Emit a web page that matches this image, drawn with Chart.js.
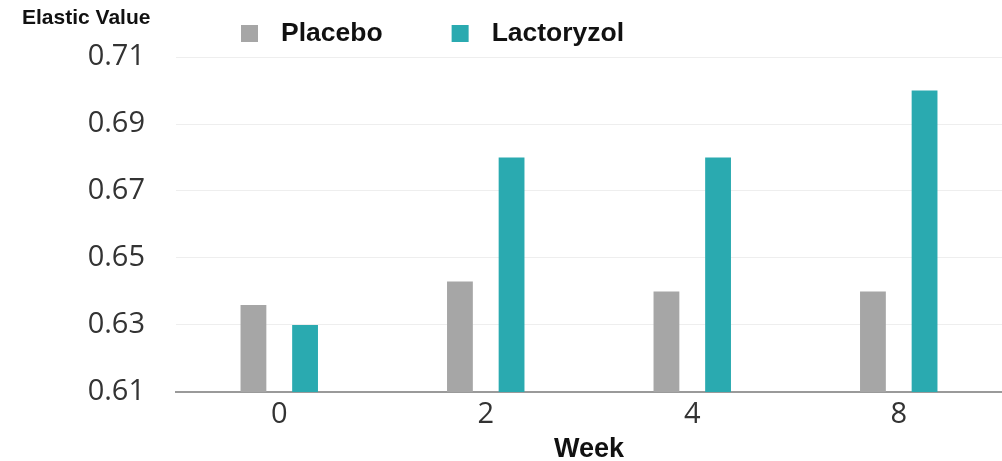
<!DOCTYPE html>
<html>
<head>
<meta charset="utf-8">
<script src="https://cdn.jsdelivr.net/npm/chart.js@4/dist/chart.umd.min.js"></script>
<style>
  html, body { margin: 0; padding: 0; background: #fff; }
  #wrap { width: 1002px; height: 461px; position: relative; }
</style>
</head>
<body>
<div id="wrap"><canvas id="c"></canvas></div>
<script>
const weeks = ['0', '2', '4', '8'];
const placebo = [0.636, 0.643, 0.640, 0.640];
const lactoryzol = [0.630, 0.680, 0.680, 0.700];
const yTicks = [0.61, 0.63, 0.65, 0.67, 0.69, 0.71];
const seriesNames = ['Placebo', 'Lactoryzol'];
const yTitle = 'Elastic Value';
const xTitle = 'Week';

const GRAY = '#a6a6a6';
const TEAL = '#2aaab0';

const headerPlugin = {
  id: 'header',
  afterDraw(chart) {
    const ctx = chart.ctx;
    ctx.save();
    ctx.fillStyle = '#111';
    ctx.font = 'bold 21px "Liberation Sans", Arial, sans-serif';
    ctx.textBaseline = 'middle';
    ctx.textAlign = 'left';
    ctx.fillText(yTitle, 22, 18);
    // legend
    ctx.font = 'bold 26.5px "Liberation Sans", Arial, sans-serif';
    let x = 241;
    chart.data.datasets.forEach((ds, i) => {
      ctx.fillStyle = ds.backgroundColor;
      ctx.fillRect(x, 25, 17, 17);
      ctx.fillStyle = '#111';
      ctx.fillText(ds.label, x + 40, 34);
      x = x + 40 + ctx.measureText(ds.label).width + 69;
    });
    ctx.restore();
  }
};

new Chart(document.getElementById('c'), {
  type: 'bar',
  data: {
    labels: weeks,
    datasets: [
      { label: seriesNames[0], data: placebo, backgroundColor: GRAY },
      { label: seriesNames[1], data: lactoryzol, backgroundColor: TEAL }
    ]
  },
  options: {
    responsive: true,
    maintainAspectRatio: false,
    animation: false,
    layout: { padding: { top: 57, right: 0, bottom: 0, left: 0 } },
    plugins: {
      legend: { display: false },
      tooltip: { enabled: false }
    },
    datasets: {
      bar: { categoryPercentage: 0.5, barPercentage: 0.5 }
    },
    scales: {
      x: {
        afterFit(scale) { scale.height = 69; },
        grid: { display: false, drawTicks: false },
        border: { display: true, color: '#9a9a9a', width: 2 },
        ticks: {
          color: '#333',
          padding: 5,
          font: { family: '"Open Sans", "Noto Sans", sans-serif', size: 29 }
        },
        title: {
          display: true,
          text: xTitle,
          color: '#111',
          padding: { top: 0, bottom: -5 },
          font: { family: '"Liberation Sans", Arial, sans-serif', size: 27, weight: 'bold' }
        }
      },
      y: {
        min: yTicks[0],
        max: yTicks[yTicks.length - 1],
        afterBuildTicks(scale) {
          scale.ticks = yTicks.map(v => ({ value: v }));
        },
        afterFit(scale) { scale.width = 176; },
        grid: { color: '#eeeeee', lineWidth: 1, drawTicks: false },
        border: { display: false },
        ticks: {
          color: '#333',
          padding: 31,
          font: { family: '"Open Sans", "Noto Sans", sans-serif', size: 29 },
          callback: v => Number(v).toFixed(2)
        }
      }
    }
  },
  plugins: [headerPlugin]
});
</script>
</body>
</html>
